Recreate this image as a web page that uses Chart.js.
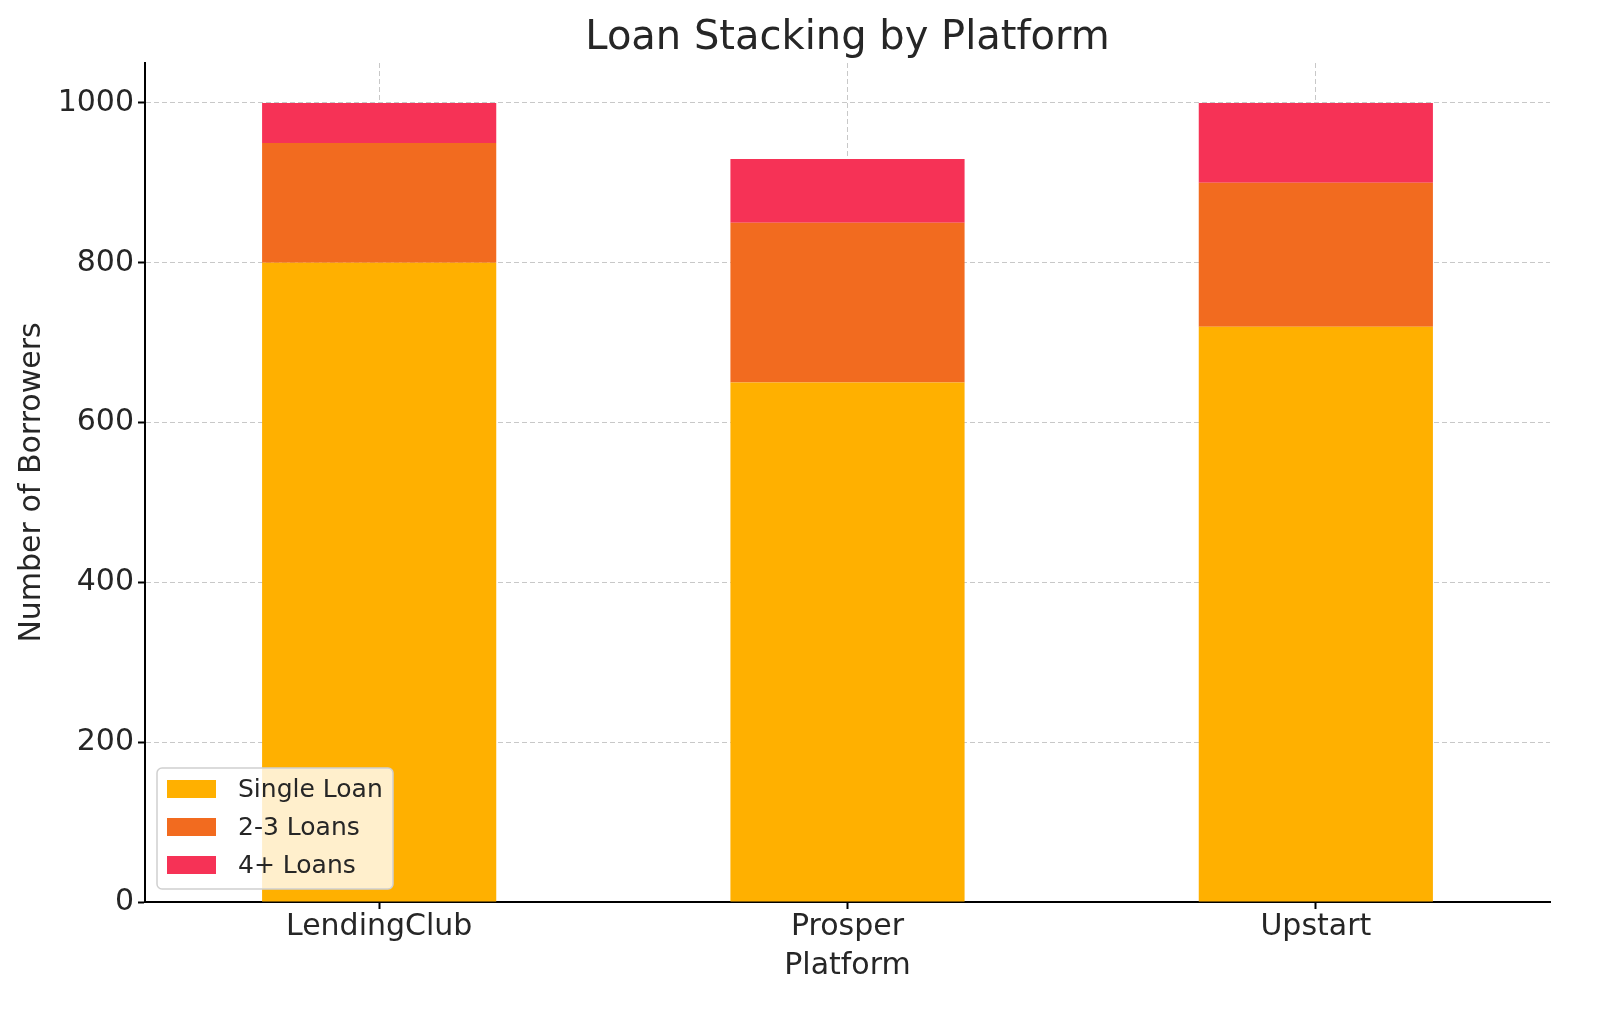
<!DOCTYPE html>
<html>
<head>
<meta charset="utf-8">
<script src="https://cdn.jsdelivr.net/npm/chart.js@4.4.1/dist/chart.umd.min.js"></script>
<style>
  body { margin: 0; background: #fff; }
  #wrap { width: 1600px; height: 1019px; }
</style>
</head>
<body>
<div id="wrap"><canvas id="myChart"></canvas></div>
<script>
const platforms = ['LendingClub', 'Prosper', 'Upstart'];
const singleLoan = [800, 650, 720];
const twoToThreeLoans = [150, 200, 180];
const fourPlusLoans = [50, 80, 100];
const yTicks = [0, 200, 400, 600, 800, 1000];

const font = "'DejaVu Sans', sans-serif";
const gridColor = 'rgba(176,176,176,0.7)';

// legend box inside the plot, lower left (like matplotlib loc="lower left")
const boxLegend = {
  id: 'boxLegend',
  afterDraw(chart) {
    const ctx = chart.ctx;
    const area = chart.chartArea;
    const x = area.left + 12, w = 236, h = 121;
    const y = area.bottom - 13 - h;
    ctx.save();
    ctx.beginPath();
    ctx.roundRect(x, y, w, h, 5);
    ctx.fillStyle = 'rgba(255,255,255,0.8)';
    ctx.fill();
    ctx.strokeStyle = '#d0d0d0';
    ctx.lineWidth = 1.5;
    ctx.stroke();
    ctx.font = '25px ' + font;
    ctx.textBaseline = 'middle';
    chart.data.datasets.forEach((ds, i) => {
      const cy = y + 21 + i * 38;
      ctx.fillStyle = ds.backgroundColor;
      ctx.fillRect(x + 10, cy - 9, 49, 18);
      ctx.fillStyle = '#262626';
      ctx.fillText(ds.label, x + 81, cy + 1);
    });
    ctx.restore();
  }
};

new Chart(document.getElementById('myChart'), {
  type: 'bar',
  data: {
    labels: platforms,
    datasets: [
      { label: 'Single Loan', data: singleLoan, backgroundColor: '#FFB000' },
      { label: '2-3 Loans', data: twoToThreeLoans, backgroundColor: '#F26B1F' },
      { label: '4+ Loans', data: fourPlusLoans, backgroundColor: '#F63256' }
    ]
  },
  options: {
    responsive: true,
    maintainAspectRatio: false,
    devicePixelRatio: 1,
    animation: false,
    layout: { padding: { left: 0, right: 50, top: 0, bottom: 0 } },
    datasets: { bar: { barPercentage: 0.5, categoryPercentage: 1, borderWidth: 0 } },
    plugins: {
      legend: { display: false },
      tooltip: { enabled: false },
      title: {
        display: true,
        text: 'Loan Stacking by Platform',
        fullSize: false,
        color: '#262626',
        font: { family: font, size: 40, weight: 'normal' },
        padding: { top: 15, bottom: 0 }
      }
    },
    scales: {
      x: {
        stacked: true,
        z: 1,
        afterFit: s => { s.height = 117; },
        grid: {
          offset: false,
          color: gridColor,
          lineWidth: 1,
          tickLength: 7,
          tickColor: '#000',
          tickWidth: 2,
          tickBorderDash: []
        },
        border: { display: true, color: '#000', width: 2, dash: [5, 3] },
        ticks: { color: '#262626', font: { family: font, size: 30 }, padding: 0 },
        title: {
          display: true,
          text: 'Platform',
          color: '#262626',
          font: { family: font, size: 30 },
          padding: { top: 0, bottom: 35 }
        }
      },
      y: {
        stacked: true,
        z: 1,
        min: 0,
        max: 1050,
        afterFit: s => { s.width = 145; },
        afterBuildTicks: s => { s.ticks = yTicks.map(v => ({ value: v })); },
        grid: {
          color: gridColor,
          lineWidth: 1,
          tickLength: 7,
          tickColor: '#000',
          tickWidth: 2,
          tickBorderDash: []
        },
        border: { display: true, color: '#000', width: 2, dash: [5, 3] },
        ticks: {
          color: '#262626',
          font: { family: font, size: 30 },
          padding: 4,
          callback: v => String(v)
        },
        title: {
          display: true,
          text: 'Number of Borrowers',
          color: '#262626',
          font: { family: font, size: 30 },
          padding: { top: 14, bottom: 0 }
        }
      }
    }
  },
  plugins: [boxLegend]
});
</script>
</body>
</html>
